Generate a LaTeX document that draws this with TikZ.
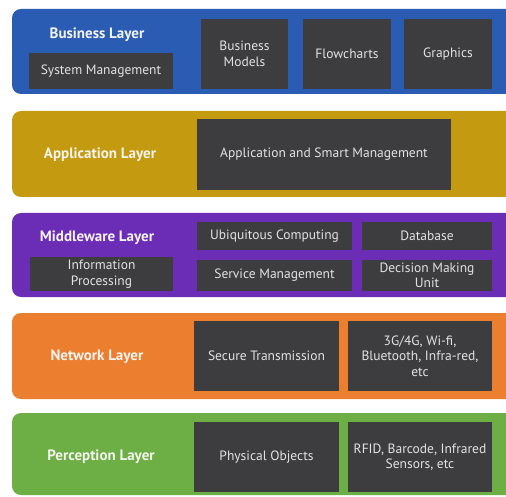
\documentclass[tikz,border=0pt]{standalone}
\usepackage{fontspec}
\setmainfont{PT Sans}
\definecolor{bizblue}{HTML}{2B5CB3}
\definecolor{appgold}{HTML}{C49A10}
\definecolor{midpurple}{HTML}{6C2DB6}
\definecolor{netorange}{HTML}{EC7E30}
\definecolor{percgreen}{HTML}{6DAE45}
\definecolor{boxgray}{HTML}{3D3D3F}
\definecolor{boxtext}{HTML}{E2E2E2}
\definecolor{titletext}{HTML}{F4F4EE}
\tikzset{
  layerband/.style={rounded corners=9pt},
  dbox/.style={fill=boxgray, text=boxtext, inner sep=0pt, align=center,
    font=\fontsize{13.5}{15.5}\selectfont},
  ltitle/.style={text=titletext, font=\fontsize{15}{17}\selectfont\bfseries, inner sep=0pt},
}
\begin{document}
\begin{tikzpicture}[x=1pt,y=-1pt]
\useasboundingbox (0,0) rectangle (506,497);
\clip (0,0) rectangle (506,497);
\fill[white] (0,0) rectangle (506,497);
% layer bands
\fill[bizblue,layerband] (12,9) rectangle (530,94);
\fill[appgold,layerband] (12,111) rectangle (530,197);
\fill[midpurple,layerband] (12,213) rectangle (530,297);
\fill[netorange,layerband] (12,313) rectangle (530,399);
\fill[percgreen,layerband] (12,413) rectangle (530,495);
% Business layer
\node[ltitle] (bizt) at (97,35) {Business Layer};
\node[dbox, minimum width=144pt, minimum height=36pt] (sysm) at (101,71) {System Management};
\node[dbox, minimum width=87pt, minimum height=70pt] (bmod) at (244.5,54) {Business\\Models};
\node[dbox, minimum width=88pt, minimum height=70pt] (flow) at (347,54) {Flowcharts};
\node[dbox, minimum width=88pt, minimum height=70pt] (grap) at (448,54) {Graphics};
% Application layer
\node[ltitle] (appt) at (100,155) {Application Layer};
\node[dbox, minimum width=254pt, minimum height=71pt] (asm) at (324,154.5) {Application and Smart Management};
% Middleware layer
\node[ltitle] (midt) at (97,238) {Middleware Layer};
\node[dbox, minimum width=155pt, minimum height=28pt] (ubiq) at (274.5,236) {Ubiquitous Computing};
\node[dbox, minimum width=130pt, minimum height=28pt] (dbase) at (427,236) {Database};
\node[dbox, minimum width=143pt, minimum height=34pt] (info) at (101.5,274) {Information\\Processing};
\node[dbox, minimum width=155pt, minimum height=31pt] (serv) at (274.5,275.5) {Service Management};
\node[dbox, minimum width=130pt, minimum height=31pt] (deci) at (427,275.5) {Decision Making\\Unit};
% Network layer
\node[ltitle] (nett) at (97,357) {Network Layer};
\node[dbox, minimum width=145pt, minimum height=70pt] (secu) at (266.5,356) {Secure Transmission};
\node[dbox, minimum width=144pt, minimum height=70pt] (wifi) at (420,356) {3G/4G, Wi-fi,\\Bluetooth, Infra-red,\\etc};
% Perception layer
\node[ltitle] (perct) at (101,457) {Perception Layer};
\node[dbox, minimum width=145pt, minimum height=70pt] (phys) at (266.5,457) {Physical Objects};
\node[dbox, minimum width=144pt, minimum height=70pt] (rfid) at (420,457) {RFID, Barcode, Infrared\\Sensors, etc};
\end{tikzpicture}
\end{document}
